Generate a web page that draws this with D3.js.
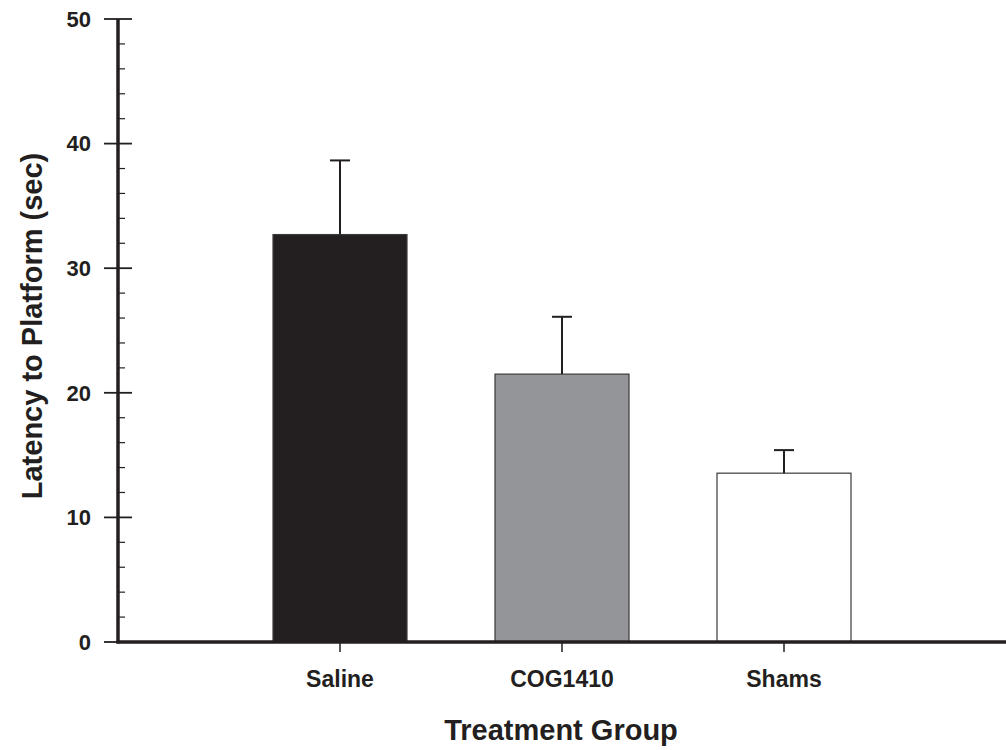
<!DOCTYPE html>
<html>
<head>
<meta charset="utf-8">
<script src="https://cdn.jsdelivr.net/npm/d3@7"></script>
<style>
  body { margin: 0; background: #fff; }
  text { font-family: "Liberation Sans", Arial, sans-serif; font-weight: bold; fill: #231f20; }
</style>
</head>
<body>
<div id="chart"></div>
<script>
var groups = ["Saline", "COG1410", "Shams"];
var means = [32.7, 21.5, 13.55];
var errs = [5.95, 4.6, 1.85];
var fills = ["#231f20", "#939598", "#ffffff"];
var yTicks = [0, 10, 20, 30, 40, 50];

var width = 1006, height = 750;
var svg = d3.select("#chart").append("svg")
  .attr("width", width)
  .attr("height", height);

var x = d3.scalePoint().domain(groups).range([118, 1006]).padding(1);
var y = d3.scaleLinear().domain([0, 50]).range([642, 19]);
var barW = 134;

// bars
svg.selectAll(".bar").data(groups).enter().append("rect")
  .attr("class", "bar")
  .attr("x", function(d) { return x(d) - barW / 2; })
  .attr("y", function(d, i) { return y(means[i]); })
  .attr("width", barW)
  .attr("height", function(d, i) { return y(0) - y(means[i]); })
  .style("fill", function(d, i) { return fills[i]; })
  .style("stroke", "#3a3a3a")
  .style("stroke-width", 1.2);

// error bars
var eb = svg.selectAll(".err").data(groups).enter().append("g").attr("class", "err");
eb.append("line")
  .attr("x1", function(d) { return x(d); })
  .attr("x2", function(d) { return x(d); })
  .attr("y1", function(d, i) { return y(means[i]); })
  .attr("y2", function(d, i) { return y(means[i] + errs[i]); })
  .style("stroke", "#231f20").style("stroke-width", 2);
eb.append("line")
  .attr("x1", function(d) { return x(d) - 10; })
  .attr("x2", function(d) { return x(d) + 10; })
  .attr("y1", function(d, i) { return y(means[i] + errs[i]); })
  .attr("y2", function(d, i) { return y(means[i] + errs[i]); })
  .style("stroke", "#231f20").style("stroke-width", 2);

// minor y ticks
var minor = d3.range(0, 50.1, 2).filter(function(v) { return v % 10 != 0; });
svg.selectAll(".minor").data(minor).enter().append("line")
  .attr("x1", 118).attr("x2", 125)
  .attr("y1", function(d) { return y(d); })
  .attr("y2", function(d) { return y(d); })
  .style("stroke", "#231f20").style("stroke-width", 1.2);

// major y ticks
svg.selectAll(".major").data(yTicks).enter().append("line")
  .attr("x1", 104).attr("x2", 132)
  .attr("y1", function(d) { return y(d); })
  .attr("y2", function(d) { return y(d); })
  .style("stroke", "#231f20").style("stroke-width", 1.8);

svg.selectAll(".ylab").data(yTicks).enter().append("text")
  .attr("x", 91)
  .attr("y", function(d) { return y(d); })
  .attr("dy", "0.35em")
  .style("text-anchor", "end")
  .style("font-size", "22px")
  .text(function(d) { return d; });

// axis lines
svg.append("line")
  .attr("x1", 118).attr("x2", 118)
  .attr("y1", y(50)).attr("y2", y(0) + 1.5)
  .style("stroke", "#231f20").style("stroke-width", 3.5);
svg.append("line")
  .attr("x1", 116.5).attr("x2", 1006)
  .attr("y1", y(0)).attr("y2", y(0))
  .style("stroke", "#231f20").style("stroke-width", 3.5);

// category ticks and labels
svg.selectAll(".xtick").data(groups).enter().append("line")
  .attr("x1", function(d) { return x(d); })
  .attr("x2", function(d) { return x(d); })
  .attr("y1", y(0)).attr("y2", y(0) + 10)
  .style("stroke", "#231f20").style("stroke-width", 1.5);

svg.selectAll(".xlab").data(groups).enter().append("text")
  .attr("x", function(d) { return x(d); })
  .attr("y", 687)
  .style("text-anchor", "middle")
  .style("font-size", "23px")
  .text(function(d) { return d; });

svg.append("text")
  .attr("x", 561)
  .attr("y", 740)
  .style("text-anchor", "middle")
  .style("font-size", "29px")
  .text("Treatment Group");

svg.append("text")
  .attr("transform", "translate(42,326) rotate(-90)")
  .style("text-anchor", "middle")
  .style("font-size", "29px")
  .text("Latency to Platform (sec)");
</script>
</body>
</html>
